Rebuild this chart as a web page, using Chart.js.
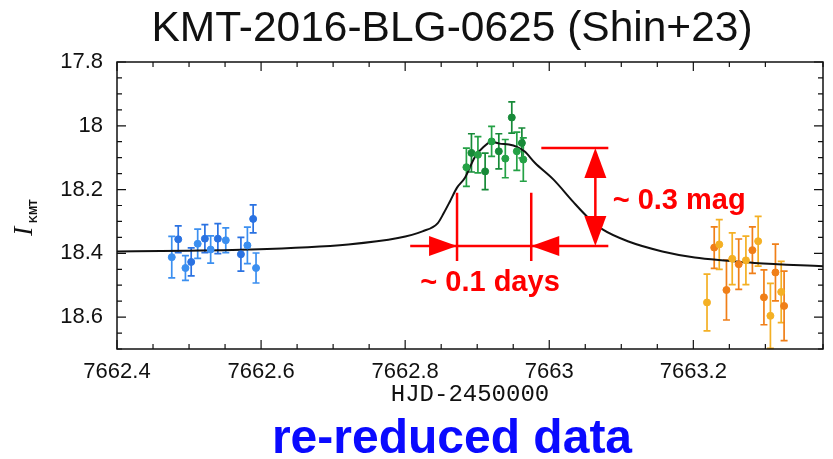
<!DOCTYPE html>
<html>
<head>
<meta charset="utf-8">
<script src="https://cdn.jsdelivr.net/npm/chart.js@4.4.0/dist/chart.umd.min.js"></script>
<style>
  html, body { margin: 0; padding: 0; background: #fff; }
  #wrap { width: 833px; height: 459px; }
</style>
</head>
<body>
<div id="wrap"><canvas id="lc" width="833" height="459"></canvas></div>
<script>
// KMT-2016-BLG-0625 re-reduced photometry: HJD-2450000, I mag, 1-sigma
const blueHjd = [7662.476, 7662.485, 7662.495, 7662.503, 7662.512, 7662.522, 7662.530,
                 7662.540, 7662.551, 7662.572, 7662.581, 7662.589, 7662.593];
const blueMag = [18.412, 18.356, 18.446, 18.427, 18.370, 18.354, 18.388,
                 18.354, 18.359, 18.403, 18.375, 18.292, 18.446];
const blueErr = [0.065, 0.042, 0.039, 0.044, 0.046, 0.044, 0.043,
                 0.047, 0.039, 0.053, 0.057, 0.044, 0.047];

const greenHjd = [7662.885, 7662.892, 7662.901, 7662.911, 7662.920, 7662.930,
                  7662.939, 7662.948, 7662.955, 7662.962, 7662.964];
const greenMag = [18.130, 18.085, 18.091, 18.143, 18.049, 18.080,
                  18.103, 17.974, 18.080, 18.054, 18.106];
const greenErr = [0.060, 0.060, 0.057, 0.057, 0.047, 0.055,
                  0.060, 0.049, 0.060, 0.047, 0.068];

const orangeHjd = [7663.219, 7663.229, 7663.236, 7663.246, 7663.254, 7663.263, 7663.273,
                   7663.282, 7663.290, 7663.298, 7663.307, 7663.314, 7663.322, 7663.326];
const orangeMag = [18.554, 18.382, 18.372, 18.515, 18.417, 18.434, 18.422,
                   18.390, 18.362, 18.538, 18.596, 18.460, 18.521, 18.565];
const orangeErr = [0.089, 0.065, 0.078, 0.094, 0.081, 0.079, 0.076,
                   0.073, 0.078, 0.086, 0.102, 0.089, 0.096, 0.109];

// best-fit model light curve
const modelHjd = [7662.400, 7662.583, 7662.721, 7662.790, 7662.824, 7662.845, 7662.854,
                  7662.862, 7662.872, 7662.883, 7662.897, 7662.909, 7662.920, 7662.931,
                  7662.944, 7662.955, 7662.966, 7662.980, 7663.006, 7663.033, 7663.054,
                  7663.074, 7663.110, 7663.157, 7663.202, 7663.248, 7663.285, 7663.381];
const modelMag = [18.394, 18.388, 18.372, 18.352, 18.331, 18.306, 18.272,
                  18.238, 18.194, 18.163, 18.097, 18.066, 18.050, 18.056,
                  18.059, 18.066, 18.081, 18.116, 18.169, 18.238, 18.288,
                  18.325, 18.363, 18.394, 18.413, 18.423, 18.430, 18.441];

const xTickLabels = ['7662.4', '7662.6', '7662.8', '7663', '7663.2'];
const yTickLabels = ['17.8', '18', '18.2', '18.4', '18.6'];

// red measuring marks (data units)
const ann = {
  bracketHjd: [7662.872, 7662.975],
  bracketTop: 18.21,
  bracketBottom: 18.424,
  arrowMag: 18.377,
  leftStart: 7662.807,
  rightEnd: 7663.082,
  peakMag: 18.07,
  peakStart: 7662.989,
  vArrowHjd: 7663.064,
  daysText: { x: 7662.821, y: 18.519, text: '~ 0.1 days' },
  magText: { x: 7663.088, y: 18.2625, text: '~ 0.3 mag' }
};

const toPts = (xs, ys) => xs.map((x, i) => ({ x: x, y: ys[i] }));
const labelFor = (list, v) => list.find(l => Math.abs(parseFloat(l) - v) < 1e-6) || '';

const shade = (a, b) => (c) => (c.dataIndex % 2 ? b : a);
const blueCol = shade('#3b8ff0', '#2a72e2');
const greenCol = shade('#24a145', '#178a38');
const orangeCol = shade('#f4b024', '#f07f18');

const errorBars = {
  id: 'errorBars',
  beforeDatasetsDraw(chart) {
    const { ctx, scales: { x, y } } = chart;
    ctx.save();
    ctx.lineWidth = 1.7;
    chart.data.datasets.forEach((ds) => {
      if (!ds.err) return;
      ds.data.forEach((p, i) => {
        const col = typeof ds.backgroundColor === 'function'
          ? ds.backgroundColor({ dataIndex: i }) : ds.backgroundColor;
        const px = x.getPixelForValue(p.x);
        const y1 = y.getPixelForValue(p.y - ds.err[i]);
        const y2 = y.getPixelForValue(p.y + ds.err[i]);
        ctx.strokeStyle = col;
        ctx.beginPath();
        ctx.moveTo(px, y1); ctx.lineTo(px, y2);
        ctx.moveTo(px - 3.5, y1); ctx.lineTo(px + 3.5, y1);
        ctx.moveTo(px - 3.5, y2); ctx.lineTo(px + 3.5, y2);
        ctx.stroke();
      });
    });
    ctx.restore();
  }
};

const frame = {
  id: 'frame',
  afterDraw(chart) {
    const { ctx, chartArea: a, scales: { x, y } } = chart;
    ctx.save();
    ctx.strokeStyle = '#111';
    ctx.lineWidth = 1.5;
    ctx.strokeRect(a.left, a.top, a.right - a.left, a.bottom - a.top);
    ctx.lineWidth = 1.2;
    ctx.beginPath();
    x.ticks.forEach(t => {
      const px = x.getPixelForValue(t.value);
      const len = labelFor(xTickLabels, t.value) ? 9 : 5;
      ctx.moveTo(px, a.bottom); ctx.lineTo(px, a.bottom - len);
      ctx.moveTo(px, a.top); ctx.lineTo(px, a.top + len);
    });
    y.ticks.forEach(t => {
      const py = y.getPixelForValue(t.value);
      const len = labelFor(yTickLabels, t.value) ? 9 : 5;
      ctx.moveTo(a.left, py); ctx.lineTo(a.left + len, py);
      ctx.moveTo(a.right, py); ctx.lineTo(a.right - len, py);
    });
    ctx.stroke();

    // y axis title: I with subscript KMT
    ctx.fillStyle = '#111';
    ctx.translate(32, 236);
    ctx.rotate(-Math.PI / 2);
    ctx.font = 'italic 28px "Liberation Serif"';
    ctx.textBaseline = 'alphabetic';
    ctx.fillText('I', 0, 0);
    ctx.font = 'bold 11px "Liberation Sans"';
    ctx.fillText('KMT', 13, 5);
    ctx.restore();
  }
};

const marks = {
  id: 'marks',
  afterDatasetsDraw(chart) {
    const { ctx, scales: { x, y } } = chart;
    const X = v => x.getPixelForValue(v);
    const Y = v => y.getPixelForValue(v);
    const red = '#ff0000';
    ctx.save();
    ctx.strokeStyle = red;
    ctx.fillStyle = red;
    ctx.lineWidth = 2.5;

    const head = (tx, ty, dx, dy, len, half) => {
      ctx.beginPath();
      ctx.moveTo(tx, ty);
      ctx.lineTo(tx - dx * len - dy * half, ty - dy * len - dx * half);
      ctx.lineTo(tx - dx * len + dy * half, ty - dy * len + dx * half);
      ctx.closePath();
      ctx.fill();
    };

    const ay = Y(ann.arrowMag);
    const b0 = X(ann.bracketHjd[0]), b1 = X(ann.bracketHjd[1]);
    ctx.beginPath();
    ctx.moveTo(b0, Y(ann.bracketTop)); ctx.lineTo(b0, Y(ann.bracketBottom));
    ctx.moveTo(b1, Y(ann.bracketTop)); ctx.lineTo(b1, Y(ann.bracketBottom));
    ctx.moveTo(X(ann.leftStart), ay); ctx.lineTo(X(ann.rightEnd), ay);
    ctx.moveTo(X(ann.peakStart), Y(ann.peakMag)); ctx.lineTo(X(ann.rightEnd), Y(ann.peakMag));
    const vx = X(ann.vArrowHjd);
    ctx.moveTo(vx, Y(ann.peakMag) + 20); ctx.lineTo(vx, ay - 20);
    ctx.stroke();

    head(b0, ay, 1, 0, 28, 10);
    head(b1, ay, -1, 0, 28, 10);
    head(vx, Y(ann.peakMag), 0, -1, 30, 11);
    head(vx, ay, 0, 1, 30, 11);

    ctx.font = 'bold 29px "Liberation Sans"';
    ctx.textBaseline = 'alphabetic';
    ctx.textAlign = 'left';
    [ann.daysText, ann.magText].forEach(t => ctx.fillText(t.text, X(t.x), Y(t.y)));
    ctx.restore();
  }
};

const headings = {
  id: 'headings',
  afterDraw(chart) {
    const { ctx } = chart;
    ctx.save();
    ctx.textAlign = 'center';
    ctx.textBaseline = 'alphabetic';
    ctx.fillStyle = '#111';
    ctx.font = '42.5px "Liberation Sans"';
    ctx.fillText('KMT-2016-BLG-0625 (Shin+23)', 452, 41);
    ctx.fillStyle = '#0a0aff';
    ctx.font = 'bold 48px "Liberation Sans"';
    ctx.fillText('re-reduced data', 452, 453);
    ctx.restore();
  }
};

const tickFont = { family: '"Liberation Sans"', size: 22 };

new Chart(document.getElementById('lc'), {
  type: 'scatter',
  data: {
    datasets: [
      { label: 'model', data: toPts(modelHjd, modelMag), showLine: true,
        borderColor: '#111', borderWidth: 2, pointRadius: 0,
        cubicInterpolationMode: 'monotone', order: 4 },
      { label: 'KMTA', data: toPts(blueHjd, blueMag), err: blueErr,
        backgroundColor: blueCol, borderColor: blueCol, pointRadius: 3.5, order: 1 },
      { label: 'KMTS', data: toPts(greenHjd, greenMag), err: greenErr,
        backgroundColor: greenCol, borderColor: greenCol, pointRadius: 3.5, order: 2 },
      { label: 'KMTC', data: toPts(orangeHjd, orangeMag), err: orangeErr,
        backgroundColor: orangeCol, borderColor: orangeCol, pointRadius: 3.5, order: 3 }
    ]
  },
  options: {
    responsive: false,
    animation: false,
    layout: { padding: { top: 62, right: 3, left: 0, bottom: 0 } },
    plugins: { legend: { display: false }, tooltip: { enabled: false } },
    scales: {
      x: {
        type: 'linear', min: 7662.4, max: 7663.38,
        afterFit: s => { s.height = 110; },
        grid: { display: false, drawTicks: false },
        border: { display: false },
        ticks: {
          stepSize: 0.05, autoSkip: false, maxRotation: 0, padding: 10,
          color: '#111', font: tickFont,
          callback: v => labelFor(xTickLabels, v)
        },
        title: {
          display: true, text: 'HJD-2450000', color: '#111',
          font: { family: '"Liberation Mono"', size: 24 },
          padding: { top: 0, bottom: 50 }
        }
      },
      y: {
        reverse: true, min: 17.8, max: 18.7,
        afterFit: s => { s.width = 117; },
        grid: { display: false, drawTicks: false },
        border: { display: false },
        ticks: {
          stepSize: 0.05, autoSkip: false, padding: 14,
          color: '#111', font: tickFont,
          callback: v => labelFor(yTickLabels, v)
        }
      }
    }
  },
  plugins: [errorBars, marks, frame, headings]
});
</script>
</body>
</html>
